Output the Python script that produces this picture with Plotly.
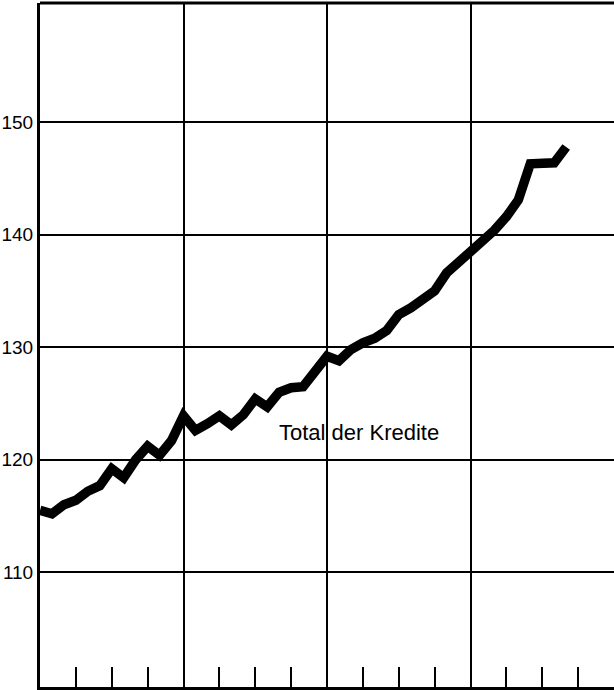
import plotly.graph_objects as go

# Monthly values (index = months from start of first year)
months = list(range(45))
total_kredite = [
    115.5, 115.2, 116.0, 116.4, 117.2, 117.7, 119.2, 118.4, 120.0, 121.2,
    120.4, 121.7, 123.9, 122.6, 123.2, 123.9, 123.1, 124.0, 125.4, 124.7,
    126.0, 126.4, 126.5, 128.0, 129.2, 128.8, 129.8, 130.4, 130.8, 131.5,
    132.9, 133.5, 134.2, 135.0, 136.6, 137.5, 138.5, 139.5, 140.4, 141.6,
    143.1, 146.3, 146.3, 146.4, 147.8,
]
y_ticks = [110, 120, 130, 140, 150]
series_label = "Total der Kredite"

FONT = "Liberation Sans, Arial, Helvetica, sans-serif"

fig = go.Figure()
fig.add_trace(go.Scatter(
    x=months, y=total_kredite, mode="lines",
    line=dict(color="black", width=9.5, shape="linear"),
    hoverinfo="skip", showlegend=False,
))

fig.add_annotation(
    x=26.7, y=122.4, xref="x", yref="y", text=series_label,
    showarrow=False, font=dict(family=FONT, size=22, color="black"),
)

# top border line
fig.add_shape(type="line", xref="paper", yref="paper", x0=0, x1=1, y0=1, y1=1,
              line=dict(color="black", width=3))

fig.update_layout(
    width=614, height=690,
    margin=dict(l=40, r=0, t=3, b=3),
    plot_bgcolor="white", paper_bgcolor="white",
    font=dict(family=FONT, size=19, color="black"),
    xaxis=dict(
        range=[0, 48], tickmode="linear", tick0=0, dtick=12,
        showgrid=True, gridcolor="black", gridwidth=1.5,
        showticklabels=False, ticks="", zeroline=False,
        showline=True, linecolor="black", linewidth=3,
        minor=dict(dtick=3, tick0=0, ticks="inside", ticklen=20,
                   tickwidth=1.5, tickcolor="black", showgrid=False),
    ),
    yaxis=dict(
        range=[99.8, 160.6], tickvals=y_ticks, ticktext=[str(v) for v in y_ticks],
        showgrid=True, gridcolor="black", gridwidth=1.5,
        ticks="", zeroline=False,
        showline=True, linecolor="black", linewidth=3,
        tickfont=dict(family=FONT, size=19, color="black"),
    ),
)

fig.write_html(
    "out.html",
    config={"displayModeBar": False},
    post_script="document.body.style.margin='0';document.body.style.overflow='hidden';",
)
